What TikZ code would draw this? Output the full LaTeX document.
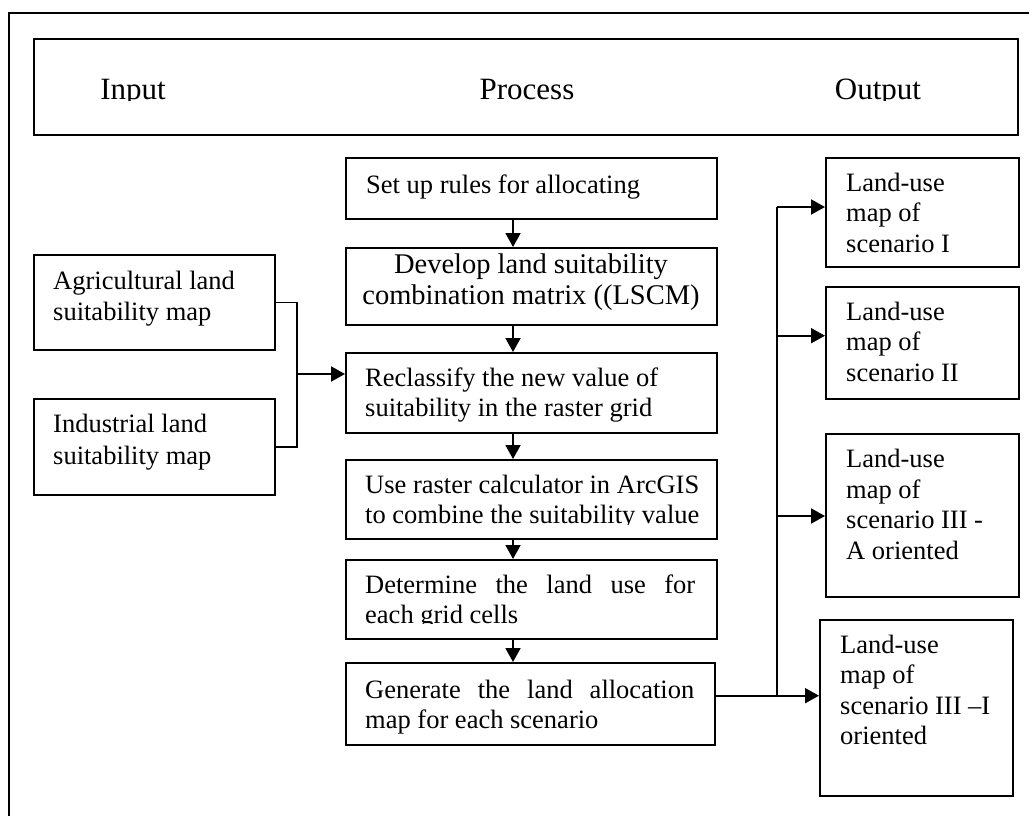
\documentclass[tikz,border=0pt]{standalone}
\usepackage{fontspec}
\setmainfont{Liberation Serif}
\usetikzlibrary{arrows.meta}
\newcommand\ltab[1]{\begin{tabular}[t]{@{}l@{}}#1\end{tabular}}
\newcommand\ctab[1]{\begin{tabular}[t]{@{}c@{}}#1\end{tabular}}
\begin{document}
\begin{tikzpicture}[x=1pt,y=-1pt,
  conn/.style={line width=1.9pt},
  arr/.style={line width=1.9pt,-{Triangle[length=14pt,width=15pt]}},
  box/.style={draw,line width=1.9pt,anchor=north west,inner sep=0pt},
  head/.style={anchor=base,inner sep=0pt,font=\fontsize{31}{36}\selectfont},
  ptxt/.style={anchor=base west,inner sep=0pt,font=\fontsize{26.5}{30}\selectfont},
  ctxt/.style={anchor=base,inner sep=0pt,font=\fontsize{28.5}{31}\selectfont},
  itxt/.style={anchor=base west,inner sep=0pt,font=\fontsize{26.5}{31.5}\selectfont},
  otxt/.style={anchor=base west,inner sep=0pt,font=\fontsize{26.5}{30.5}\selectfont}]
\useasboundingbox (0,0) rectangle (1029,816);
\fill[white] (0,0) rectangle (1029,816);

% outer frame (only its left and top sides fall inside the page)
\draw[conn] (9,830) -- (9,13) -- (1040,13);

% header band
\node[box,minimum width=984pt,minimum height=96pt] (hdr) at (33,38) {};
\begin{scope}
  \clip (33,38) rectangle (1017,100.5);
  \node[head] (hin)  at (133,99.5) {Input};
  \node[head] (hpr)  at (527,99.5) {Process};
  \node[head] (hout) at (878,99.5) {Output};
\end{scope}

% input maps
\node[box,minimum width=241pt,minimum height=95pt] (agri) at (33,254) {};
\node[box,minimum width=241pt,minimum height=96.3pt] (ind) at (33,397.7) {};
\node[itxt] (agri-t) at (53,289) {\ltab{Agricultural land\\suitability map}};
\node[itxt] (ind-t) at (53,432.7) {\ltab{Industrial land\\suitability map}};

% process steps
\node[box,minimum width=370.7pt,minimum height=60.7pt] (setup) at (345,157) {};
\node[box,minimum width=370.7pt,minimum height=77pt] (develop) at (345,247) {};
\node[box,minimum width=370.7pt,minimum height=80pt] (reclass) at (345,352) {};
\node[box,minimum width=370.7pt,minimum height=78.7pt] (raster) at (345,459) {};
\node[box,minimum width=370.7pt,minimum height=78.7pt] (determine) at (345,559) {};
\node[box,minimum width=369pt,minimum height=82pt] (generate) at (345,662) {};

\node[ptxt] (setup-t) at (366,193) {Set up rules for allocating};
\node[ctxt] (develop-t) at (531,273) {\ctab{Develop land suitability\\combination matrix ((LSCM)}};
\node[ptxt] (reclass-t) at (365,386) {\ltab{Reclassify the new value of\\suitability in the raster grid}};
\begin{scope}
  \clip (345,459) rectangle (716,524.5);
  \node[ptxt] (raster-t) at (365,493) {\ltab{Use raster calculator in ArcGIS\\to combine the suitability value}};
\end{scope}
\begin{scope}
  \clip (345,559) rectangle (716,623.5);
  \node[ptxt] (determine-t) at (365,593) {\ltab{\makebox[330pt][s]{Determine the land use for}\\each grid cells}};
\end{scope}
\node[ptxt] (generate-t) at (365,698) {\ltab{\makebox[329pt][s]{Generate the land allocation}\\map for each scenario}};

% output maps
\node[box,minimum width=192.7pt,minimum height=108.7pt] (o1) at (825,157) {};
\node[box,minimum width=192.7pt,minimum height=112pt] (o2) at (825,286) {};
\node[box,minimum width=192.7pt,minimum height=162.7pt] (o3) at (825,433) {};
\node[box,minimum width=192.7pt,minimum height=176pt] (o4) at (819,619) {};
\node[otxt] (o1-t) at (846,191) {\ltab{Land-use\\map of\\scenario I}};
\node[otxt] (o2-t) at (846,320) {\ltab{Land-use\\map of\\scenario II}};
\node[otxt] (o3-t) at (846,467.7) {\ltab{Land-use\\map of\\scenario III -\\A oriented}};
\node[otxt] (o4-t) at (840,653) {\ltab{Land-use\\map of\\scenario III –I\\oriented}};

% inputs merge into the reclassification step
\coordinate (jn) at (297,374);
\draw[conn] (agri.east) -| (jn) |- (ind.east);
\draw[arr] (jn) -- (jn -| reclass.west);

% chain of process steps
\coordinate (ax) at (513,0);
\draw[arr] (setup.south -| ax) -- (develop.north -| ax);
\draw[arr] (develop.south -| ax) -- (reclass.north -| ax);
\draw[arr] (reclass.south -| ax) -- (raster.north -| ax);
\draw[arr] (raster.south -| ax) -- (determine.north -| ax);
\draw[arr] (determine.south -| ax) -- (generate.north -| ax);

% distribution bus to the output maps
\coordinate (b1) at (777,207);
\coordinate (b2) at (777,335.7);
\coordinate (b3) at (777,516);
\coordinate (b4) at (777,695.7);
\draw[conn] (b1) -- (b4);
\draw[arr] (b1) -- (b1 -| o1.west);
\draw[arr] (b2) -- (b2 -| o2.west);
\draw[arr] (b3) -- (b3 -| o3.west);
\draw[arr] (generate.east |- b4) -- (b4 -| o4.west);
\end{tikzpicture}
\end{document}
